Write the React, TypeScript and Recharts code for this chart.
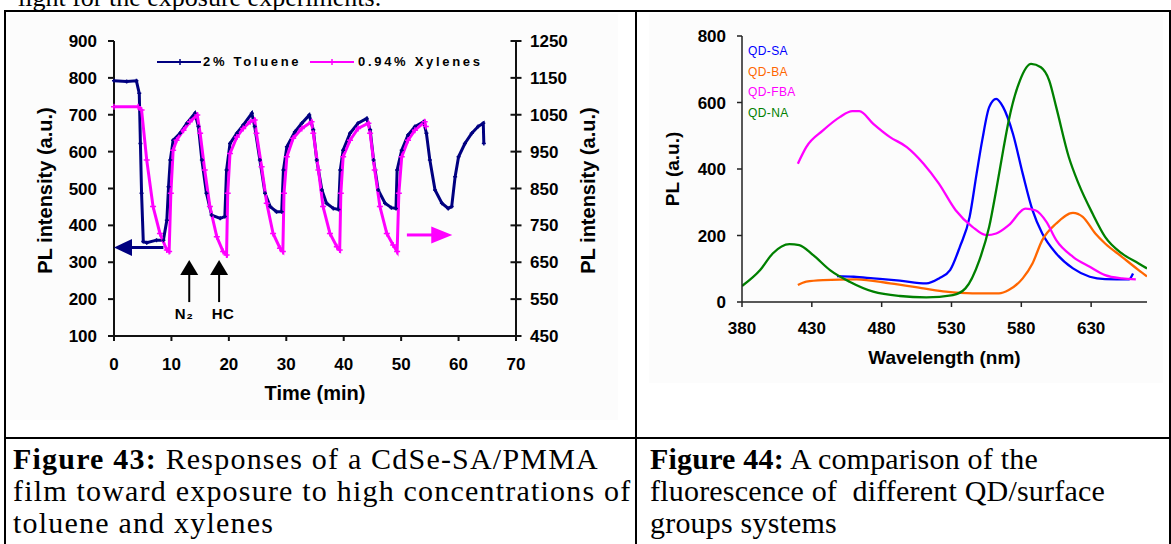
import React from "react";
import { LineChart, Line, XAxis, YAxis, ReferenceLine, ReferenceDot, Label } from "recharts";

const SANS = '"Liberation Sans", Arial, sans-serif';
const SERIF = '"Liberation Serif", "Times New Roman", serif';

// ---- Figure 43: PL response vs time ----
const timeTicks = [0, 10, 20, 30, 40, 50, 60, 70];
const leftTicks = [100, 200, 300, 400, 500, 600, 700, 800, 900];
const rightTicks = [450, 550, 650, 750, 850, 950, 1050, 1150, 1250];

const tolueneTime = [0, 2.2, 3.9, 4.4, 4.6, 4.8, 5.1, 5.7, 7.4, 8.6, 9.2, 9.5, 9.8, 10.3, 11.5, 12.7, 14.1, 14.7, 15.3, 16.1, 17.0, 18.5, 19.3, 19.6, 20.2, 21.4, 22.5, 24.0, 24.5, 25.4, 26.3, 27.2, 28.3, 29.2, 29.5, 30.1, 31.5, 32.7, 34.0, 34.7, 35.3, 36.2, 37.0, 38.2, 39.1, 39.4, 39.9, 41.1, 42.5, 44.0, 44.6, 45.2, 46.0, 47.2, 48.3, 49.1, 49.3, 50.1, 51.2, 52.4, 53.9, 54.4, 55.0, 55.9, 57.1, 58.2, 58.8, 59.4, 60.0, 61.1, 62.3, 63.4, 64.3, 64.4];
const toluenePL = [792, 790, 792, 758, 622, 487, 356, 353, 360, 360, 414, 505, 577, 631, 650, 677, 704, 668, 577, 487, 428, 419, 424, 550, 622, 650, 672, 704, 668, 577, 487, 451, 437, 437, 550, 613, 654, 677, 699, 659, 577, 496, 460, 446, 443, 550, 604, 650, 677, 690, 659, 577, 496, 460, 448, 446, 550, 604, 645, 668, 681, 650, 577, 496, 460, 446, 451, 532, 586, 622, 650, 668, 677, 622];

const xyleneTime = [0, 4.2, 4.8, 5.7, 6.8, 8.0, 9.2, 9.6, 9.9, 10.3, 10.9, 12.1, 13.2, 14.5, 15.0, 15.8, 16.7, 17.9, 19.0, 19.6, 19.8, 20.2, 21.4, 22.5, 23.7, 24.5, 24.8, 25.7, 26.6, 27.7, 28.9, 29.4, 29.6, 30.1, 31.2, 32.7, 34.4, 34.7, 35.6, 36.4, 37.6, 38.8, 39.3, 39.5, 39.9, 41.1, 42.5, 44.3, 44.6, 45.4, 46.3, 47.5, 48.6, 49.3, 49.6, 50.1, 51.2, 52.4, 54.1, 54.3];
const xylenePL = [1072, 1072, 1063, 927, 801, 728, 683, 679, 837, 954, 981, 1008, 1031, 1049, 1000, 900, 801, 719, 679, 670, 837, 945, 990, 1013, 1031, 1036, 1000, 909, 810, 728, 688, 679, 837, 936, 986, 1013, 1031, 1000, 900, 801, 728, 692, 683, 837, 936, 981, 1013, 1027, 1000, 900, 801, 728, 697, 679, 837, 936, 981, 1008, 1031, 1018];

// ---- Figure 44: PL spectra ----
const wavelengthTicks = [380, 430, 480, 530, 580, 630];
const plTicks = [0, 200, 400, 600, 800];

const saNm = [448, 460, 474, 493, 512, 521, 529, 536, 543, 548, 552, 557, 562, 567, 574, 581, 588, 595, 605, 617, 629, 640, 657, 660];
const saPL = [78, 76, 71, 64, 56, 71, 96, 166, 256, 386, 486, 586, 611, 586, 506, 386, 276, 206, 146, 101, 76, 69, 68, 86];

const baNm = [420, 426, 438, 462, 486, 510, 526, 545, 564, 571, 581, 588, 595, 605, 617, 624, 633, 640, 652, 664, 670];
const baPL = [51, 61, 66, 68, 56, 41, 31, 26, 26, 36, 71, 116, 186, 236, 268, 256, 206, 176, 136, 96, 77];

const fbaNm = [420, 426, 438, 450, 459, 464, 474, 486, 498, 510, 521, 533, 545, 555, 562, 571, 583, 590, 598, 605, 617, 629, 640, 652, 662];
const fbaPL = [416, 466, 516, 556, 574, 574, 536, 496, 466, 416, 356, 276, 226, 201, 206, 231, 281, 276, 241, 186, 136, 106, 81, 71, 68];

const naNm = [380, 393, 402, 414, 421, 431, 443, 457, 474, 493, 512, 531, 540, 550, 557, 562, 567, 571, 579, 587, 594, 600, 605, 614, 621, 631, 640, 652, 664, 670];
const naPL = [48, 96, 146, 174, 171, 141, 96, 61, 31, 18, 14, 21, 41, 126, 226, 336, 456, 546, 666, 716, 706, 666, 586, 436, 356, 266, 196, 146, 116, 101];

const zip = (xs: number[], ys: number[], xKey: string, yKey: string) =>
  xs.map((x, i) => ({ [xKey]: x, [yKey]: ys[i] }));

const tolueneData = zip(tolueneTime, toluenePL, "t", "toluene");
const xyleneData = zip(xyleneTime, xylenePL, "t", "xylene");

const spectra = [
  { name: "QD-SA", color: "#0000FF", data: zip(saNm, saPL, "nm", "pl") },
  { name: "QD-BA", color: "#FF6600", data: zip(baNm, baPL, "nm", "pl") },
  { name: "QD-FBA", color: "#FF00FF", data: zip(fbaNm, fbaPL, "nm", "pl") },
  { name: "QD-NA", color: "#008000", data: zip(naNm, naPL, "nm", "pl") },
];

const NAVY = "#000080";
const MAGENTA = "#FF00FF";

const tickFont = { fill: "#000", fontSize: 17, fontWeight: 700, fontFamily: SANS };
const axisStroke = { stroke: "#111", strokeWidth: 2 };

// small "+" markers like the Excel series
const plusDot = (color: string, s: number, w: number) => (props: any) => {
  const { cx, cy, index } = props;
  if (cx == null || cy == null) return <g key={index} />;
  return (
    <path
      key={index}
      d={`M${cx - s},${cy}H${cx + s}M${cx},${cy - s}V${cy + s}`}
      stroke={color}
      strokeWidth={w}
    />
  );
};

// right axis of fig 43: tick mark crosses the axis line
function CrossTick(props: any) {
  const { x, y, payload } = props;
  const axisX = x - 14;
  return (
    <g>
      <line x1={axisX - 5.5} x2={axisX + 5.5} y1={y} y2={y} stroke="#111" strokeWidth={2} />
      <text x={x} y={y} dy="0.36em" textAnchor="start" {...tickFont}>
        {payload.value}
      </text>
    </g>
  );
}

const leftArrowHead = (p: any) => (
  <polygon points={`${p.cx},${p.cy} ${p.cx + 18},${p.cy - 8.5} ${p.cx + 18},${p.cy + 8.5}`} fill={NAVY} />
);
const rightArrowHead = (p: any) => (
  <polygon points={`${p.cx},${p.cy} ${p.cx - 21},${p.cy - 8.5} ${p.cx - 21},${p.cy + 8.5}`} fill={MAGENTA} />
);
const upArrowHead = (p: any) => (
  <polygon points={`${p.cx},${p.cy} ${p.cx - 9},${p.cy + 15} ${p.cx + 9},${p.cy + 15}`} fill="#000" />
);
const textMark = (label: string) => (p: any) => (
  <text x={p.cx} y={p.cy} dy="0.36em" textAnchor="middle" fontFamily={SANS} fontWeight={700} fontSize={15} letterSpacing={0.5} fill="#000">
    {label}
  </text>
);

function Fig43() {
  return (
    <LineChart width={640} height={436} margin={{ top: 41, right: 0, bottom: 20, left: 0 }}>
      <XAxis
        type="number"
        dataKey="t"
        domain={[0, 70]}
        ticks={timeTicks}
        tick={tickFont}
        tickSize={5}
        tickMargin={17}
        axisLine={axisStroke}
        tickLine={axisStroke}
        height={80}
      >
        <Label value="Time (min)" position="center" dy={17} fill="#000" fontSize={20} fontWeight={700} fontFamily={SANS} />
      </XAxis>
      <YAxis
        yAxisId="left"
        domain={[100, 900]}
        ticks={leftTicks}
        tick={tickFont}
        tickSize={6}
        tickMargin={11}
        axisLine={axisStroke}
        tickLine={axisStroke}
        width={114}
      >
        <Label value="PL intensity (a.u.)" angle={-90} position="center" dx={-12} dy={2} fill="#000" fontSize={20} fontWeight={700} fontFamily={SANS} />
      </YAxis>
      <YAxis
        yAxisId="right"
        orientation="right"
        domain={[450, 1250]}
        ticks={rightTicks}
        tick={<CrossTick />}
        tickSize={6}
        tickMargin={8}
        axisLine={axisStroke}
        tickLine={false}
        width={124}
      >
        <Label value="PL intensity (a.u.)" angle={-90} position="center" dx={10} dy={2} fill="#000" fontSize={20} fontWeight={700} fontFamily={SANS} />
      </YAxis>

      <Line
        yAxisId="left"
        data={tolueneData}
        dataKey="toluene"
        type="linear"
        stroke={NAVY}
        strokeWidth={3}
        dot={plusDot(NAVY, 2, 1.5)}
        isAnimationActive={false}
      />
      <Line
        yAxisId="right"
        data={xyleneData}
        dataKey="xylene"
        type="linear"
        stroke={MAGENTA}
        strokeWidth={3}
        dot={plusDot(MAGENTA, 3, 1.5)}
        isAnimationActive={false}
      />

      {/* navy arrow -> left axis */}
      <ReferenceLine yAxisId="left" segment={[{ x: 2.5, y: 340 }, { x: 8.6, y: 340 }]} stroke={NAVY} strokeWidth={3} />
      <ReferenceDot yAxisId="left" x={0} y={340} r={0} shape={leftArrowHead} />
      {/* magenta arrow -> right axis */}
      <ReferenceLine yAxisId="right" segment={[{ x: 51.0, y: 724 }, { x: 56.0, y: 724 }]} stroke={MAGENTA} strokeWidth={3} />
      <ReferenceDot yAxisId="right" x={58.9} y={724} r={0} shape={rightArrowHead} />
      {/* gas switching markers */}
      <ReferenceLine yAxisId="left" segment={[{ x: 13.1, y: 192 }, { x: 13.1, y: 270 }]} stroke="#000" strokeWidth={2} />
      <ReferenceDot yAxisId="left" x={13.1} y={306} r={0} shape={upArrowHead} />
      <ReferenceLine yAxisId="left" segment={[{ x: 18.3, y: 192 }, { x: 18.3, y: 270 }]} stroke="#000" strokeWidth={2} />
      <ReferenceDot yAxisId="left" x={18.3} y={306} r={0} shape={upArrowHead} />
      <ReferenceDot yAxisId="left" x={12.2} y={162} r={0} shape={textMark("N\u2082")} />
      <ReferenceDot yAxisId="left" x={19.0} y={162} r={0} shape={textMark("HC")} />
    </LineChart>
  );
}

function Fig44() {
  return (
    <LineChart width={535} height={436} margin={{ top: 36, right: 24, bottom: 54, left: 0 }}>
      <XAxis
        type="number"
        dataKey="nm"
        domain={[380, 670]}
        ticks={wavelengthTicks}
        tick={tickFont}
        tickSize={5}
        tickMargin={15}
        axisLine={{ stroke: "#222", strokeWidth: 1.5 }}
        tickLine={{ stroke: "#222", strokeWidth: 1.5 }}
        height={80}
        allowDataOverflow
      >
        <Label value="Wavelength (nm)" position="center" dy={15} fill="#000" fontSize={19} fontWeight={700} fontFamily={SANS} />
      </XAxis>
      <YAxis
        domain={[0, 800]}
        ticks={plTicks}
        tick={tickFont}
        tickSize={5}
        tickMargin={11}
        axisLine={{ stroke: "#222", strokeWidth: 1.5 }}
        tickLine={{ stroke: "#222", strokeWidth: 1.5 }}
        width={106}
      >
        <Label value="PL (a.u.)" angle={-90} position="center" dx={-17} fill="#000" fontSize={19} fontWeight={700} fontFamily={SANS} />
      </YAxis>
      {spectra.map((s) => (
        <Line
          key={s.name}
          data={s.data}
          dataKey="pl"
          name={s.name}
          type="monotone"
          stroke={s.color}
          strokeWidth={2.3}
          dot={false}
          isAnimationActive={false}
        />
      ))}
    </LineChart>
  );
}

const rule = (style: React.CSSProperties) => (
  <div style={{ position: "absolute", background: "#000", ...style }} />
);

export default function App() {
  return (
    <div
      style={{
        position: "absolute",
        left: 0,
        top: 0,
        width: 1171,
        height: 544,
        overflow: "hidden",
        background: "#fff",
        fontFamily: SERIF,
      }}
    >
      {/* cut-off body text above the table */}
      <div style={{ position: "absolute", left: 18, top: -15, fontSize: 26, lineHeight: "26px", whiteSpace: "nowrap" }}>
        light for the exposure experiments.
      </div>

      {/* faint figure backgrounds */}
      <div style={{ position: "absolute", left: 10, top: 14, width: 608, height: 406, background: "#fcfcfc" }} />
      <div style={{ position: "absolute", left: 649, top: 14, width: 514, height: 369, background: "#fcfcfc" }} />

      <div style={{ position: "absolute", left: 0, top: 0 }}>
        <Fig43 />
      </div>
      <div style={{ position: "absolute", left: 636, top: 0 }}>
        <Fig44 />
      </div>

      {/* fig 43 legend */}
      <div style={{ position: "absolute", left: 0, top: 0, fontFamily: SANS, fontWeight: 700, fontSize: 13, letterSpacing: 2.7 }}>
        <svg style={{ position: "absolute", left: 155, top: 55 }} width={48} height={14}>
          <line x1={2} x2={46} y1={7} y2={7} stroke={NAVY} strokeWidth={2} />
          <path d="M22,7H28M25,4V10" stroke={NAVY} strokeWidth={1.5} />
        </svg>
        <div style={{ position: "absolute", left: 203, top: 54, lineHeight: "16px", whiteSpace: "nowrap" }}>2% Toluene</div>
        <svg style={{ position: "absolute", left: 308, top: 55 }} width={48} height={14}>
          <line x1={2} x2={46} y1={7} y2={7} stroke={MAGENTA} strokeWidth={2} />
          <path d="M21,7H27M24,4V10" stroke={MAGENTA} strokeWidth={1.5} />
        </svg>
        <div style={{ position: "absolute", left: 358, top: 54, lineHeight: "16px", whiteSpace: "nowrap" }}>0.94% Xylenes</div>
      </div>

      {/* fig 44 legend */}
      {spectra.map((s, i) => (
        <div
          key={s.name}
          style={{
            position: "absolute",
            left: 748,
            top: 44 + i * 20.7,
            lineHeight: "14px",
            fontFamily: SANS,
            fontSize: 12,
            letterSpacing: 0.4,
            color: s.color,
          }}
        >
          {s.name}
        </div>
      ))}

      {/* table rules */}
      {rule({ left: 4, top: 10, width: 1167, height: 2 })}
      {rule({ left: 4, top: 10, width: 2, height: 534 })}
      {rule({ left: 635, top: 10, width: 2, height: 534 })}
      {rule({ left: 1169, top: 10, width: 2, height: 534 })}
      {rule({ left: 4, top: 437, width: 1167, height: 2 })}

      {/* captions */}
      <div style={{ position: "absolute", left: 13, top: 443, fontSize: 30, lineHeight: "32px", letterSpacing: 1.2, whiteSpace: "nowrap" }}>
        <b>Figure 43:</b> Responses of a CdSe-SA/PMMA
        <br />
        film toward exposure to high concentrations of
        <br />
        toluene and xylenes
      </div>
      <div style={{ position: "absolute", left: 650, top: 443, fontSize: 30, lineHeight: "32px", letterSpacing: 0.2, whiteSpace: "pre" }}>
        <b>Figure 44:</b> A comparison of the
        <br />
        {"fluorescence of  different QD/surface"}
        <br />
        groups systems
      </div>
    </div>
  );
}
